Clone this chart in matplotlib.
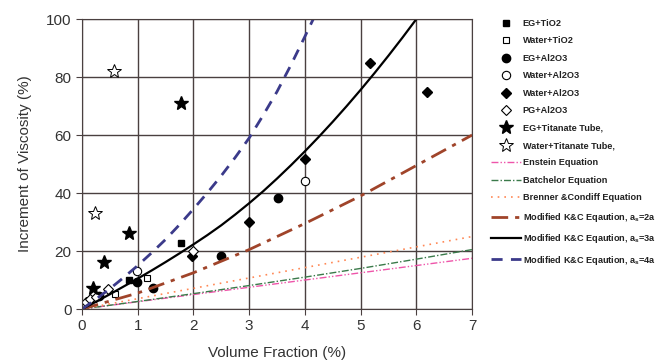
import matplotlib.pyplot as plt

plt.rcParams['font.family'] = ['Liberation Sans', 'DejaVu Sans']

# measured points
eg_tio2_x = [0.85, 1.78]
eg_tio2_y = [10, 22.7]
w_tio2_x = [0.6, 1.17]
w_tio2_y = [5.3, 10.6]
eg_al_x = [0.3, 0.98, 1.28, 2.5, 3.52]
eg_al_y = [4.5, 9.2, 7.4, 18.3, 38.4]
w_al_open_x = [0.98, 4.0]
w_al_open_y = [13, 44]
w_al_dia_x = [1.98, 3.0, 4.0, 5.17, 6.19]
w_al_dia_y = [18.2, 30, 51.7, 84.8, 74.8]
pg_al_x = [0.08, 0.15, 0.25, 0.47, 2.0]
pg_al_y = [2.5, 3.5, 4.2, 6.8, 20]
eg_tt_x = [0.2, 0.4, 0.85, 1.78]
eg_tt_y = [7.3, 16.2, 26.3, 71]
w_tt_x = [0.23, 0.58]
w_tt_y = [33, 82]

# curves
einstein_x = [0, 7]
einstein_y = [0, 17.5]
batchelor_x = [0, 1, 2, 3, 4, 5, 6, 7]
batchelor_y = [0, 2.6, 5.3, 8.1, 11.0, 14.0, 17.2, 20.5]
brenner_x = [0, 7]
brenner_y = [0, 25]
kc2_x = [0, 1, 2, 3, 4, 5, 6, 7]
kc2_y = [0, 5.5, 12.5, 20.5, 29.5, 39, 49.5, 60]
kc3_x = [0, 0.25, 0.5, 0.75, 1, 1.25, 1.5, 1.75, 2, 2.25, 2.5, 2.75, 3, 3.25, 3.5,
         3.75, 4, 4.25, 4.5, 4.75, 5, 5.25, 5.5, 5.75, 6.0]
kc3_y = [0, 2.5, 5.1, 7.8, 10.5, 13.3, 16.2, 19.2, 22.3, 25.5, 28.9, 32.6, 36.5,
         40.6, 45, 49.6, 54.4, 59.4, 64.6, 70, 75.6, 81.4, 87.4, 93.6, 100]
kc4_x = [0, 0.25, 0.5, 0.75, 1, 1.25, 1.5, 1.75, 2, 2.25, 2.5, 2.75, 3, 3.25, 3.5,
         3.75, 4, 4.15]
kc4_y = [0, 3.4, 7, 10.9, 15, 19.4, 24, 29.1, 34.5, 40.1, 46, 52.3, 59, 66.8, 75,
         84.2, 94, 100]

fig = plt.figure(figsize=(6.69, 3.61), dpi=100, facecolor='w')
ax = fig.add_axes([0.1226, 0.144, 0.583, 0.803])

ms = 5
h = []
h.append(ax.plot(eg_tio2_x, eg_tio2_y, 's', color='k', ms=ms, label='EG+TiO2')[0])
h.append(ax.plot(w_tio2_x, w_tio2_y, 's', mfc='w', mec='k', mew=0.8, ms=ms, label='Water+TiO2')[0])
h.append(ax.plot(eg_al_x, eg_al_y, 'o', color='k', ms=ms + 1, label='EG+Al2O3')[0])
h.append(ax.plot(w_al_open_x, w_al_open_y, 'o', mfc='w', mec='k', mew=0.8, ms=ms + 1, label='Water+Al2O3')[0])
h.append(ax.plot(w_al_dia_x, w_al_dia_y, 'D', color='k', ms=ms, label='Water+Al2O3')[0])
h.append(ax.plot(pg_al_x, pg_al_y, 'D', mfc='w', mec='k', mew=0.8, ms=ms, label='PG+Al2O3')[0])
h.append(ax.plot(eg_tt_x, eg_tt_y, '*', color='k', ms=ms + 5, label='EG+Titanate Tube,')[0])
h.append(ax.plot(w_tt_x, w_tt_y, '*', mfc='w', mec='k', mew=0.7, ms=ms + 5, label='Water+Titanate Tube,')[0])

h.append(ax.plot(einstein_x, einstein_y, color='#ee55aa', lw=1, dashes=(5, 1.5, 1, 1.5, 1, 1.5), label='Enstein Equation')[0])
h.append(ax.plot(batchelor_x, batchelor_y, color='#3a7a4a', lw=1, dashes=(5, 1.5, 1, 1.5), label='Batchelor Equation')[0])
h.append(ax.plot(brenner_x, brenner_y, color='#ff8855', lw=1.2, ls=(0, (1, 3)), label='Brenner &Condiff Equation')[0])
h.append(ax.plot(kc2_x, kc2_y, color='#a0442a', lw=2, dashes=(6, 2.5, 1.5, 2.5), label='Modified K&C Eqaution, a$_\\mathregular{s}$=2a')[0])
h.append(ax.plot(kc3_x, kc3_y, color='k', lw=1.6, label='Modified K&C Eqaution, a$_\\mathregular{s}$=3a')[0])
h.append(ax.plot(kc4_x, kc4_y, color='#3b3a8a', lw=2, dashes=(4, 3), label='Modified K&C Eqaution, a$_\\mathregular{s}$=4a')[0])

ax.set_xlim(0, 7)
ax.set_ylim(0, 100)
ax.set_xticks(range(0, 8))
ax.set_yticks(range(0, 101, 20))
ax.grid(True, color='#4a4040', lw=1)
for s in ax.spines.values():
    s.set_color('#4a4040')
ax.tick_params(colors='#4a4040', labelcolor='#333333', labelsize=11, length=4)
ax.set_xlabel('Volume Fraction (%)', fontsize=11, color='#333333', labelpad=9)
ax.set_ylabel('Increment of Viscosity (%)', fontsize=11, color='#333333', labelpad=10)

leg = fig.legend(handles=h, loc='upper left', bbox_to_anchor=(0.727, 0.96),
                 frameon=False, fontsize=6.6, handlelength=3.3, handletextpad=0.15,
                 labelspacing=0.92, borderpad=0)
for t in leg.get_texts():
    t.set_fontweight('bold')
    t.set_color('#222222')

fig.savefig('out.png', dpi=100)
